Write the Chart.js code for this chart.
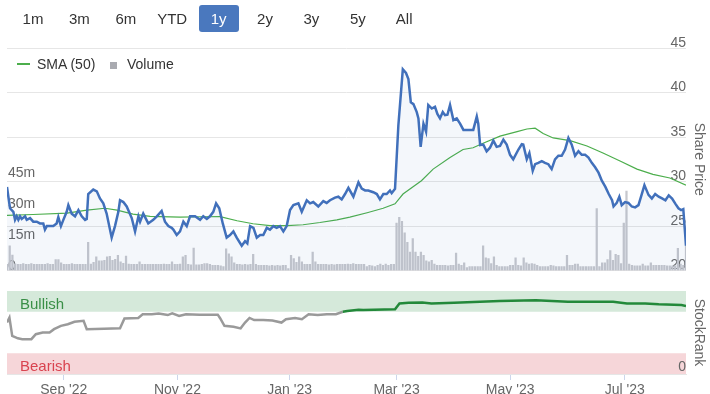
<!DOCTYPE html>
<html><head><meta charset="utf-8">
<script src="https://cdn.jsdelivr.net/npm/chart.js@4/dist/chart.umd.min.js"></script>
<style>
body{margin:0;background:#fff;}
#wrap{position:relative;width:710px;height:394px;overflow:hidden;font-family:"Liberation Sans",Arial,sans-serif;}
.btn{position:absolute;top:5px;width:40px;height:27px;line-height:27px;text-align:center;font-size:15px;color:#333;border-radius:3px;z-index:2;}
.btn.on{background:#4a78be;color:#fff;}
canvas{position:absolute;left:0;}
.lg{position:absolute;font-size:14px;color:#333;line-height:16px;z-index:2;white-space:nowrap;}
.lgline{position:absolute;height:1.5px;z-index:2;}
.lgsq{position:absolute;width:7px;height:7px;z-index:2;}
</style></head>
<body><div id="wrap">
<canvas id="main" width="710" height="280" style="top:0"></canvas>
<canvas id="rank" width="710" height="112" style="top:282px"></canvas>
</div>
<script>
// ---------- DATA ----------
// The x axis is ordinal: one step per trading day, from START to END.
const START = '2022-08-03';
const END = '2023-08-03';
const rangeButtons = ['1m','3m','6m','YTD','1y','2y','3y','5y','All'];
const activeRange = '1y';
const marketHolidays = ['2022-09-05','2022-11-24','2022-12-26','2023-01-02','2023-01-16','2023-02-20','2023-04-07','2023-05-29','2023-06-19','2023-07-04'];

// share price: trading-day position, price
const priceIdx = [0,1.11,2.35,2.97,3.58,4.2,4.82,5.44,6.68,7.29,8.53,9.7,11.0,12.17,13.41,14.03,14.71,15.88,17.12,18.35,18.97,19.93,20.83,22.06,22.68,23.92,25.15,26.39,27.63,28.86,29.48,30.03,31.89,33.19,34.36,35.6,36.83,38.69,39.92,41.16,41.78,43.01,44.25,46.11,47.34,48.58,49.2,50.36,52.22,54.07,55.38,57.16,58.4,59.64,60.87,61.49,62.73,63.96,65.2,66.44,67.67,69.53,71.38,72.55,73.86,75.02,76.26,77.29,78.46,79.76,81.2,82.44,83.68,84.91,86.77,88.0,88.83,89.86,91.1,92.33,93.57,94.74,96.04,97.21,98.45,99.68,100.92,102.16,103.39,104.63,105.87,107.72,108.96,110.81,112.05,113.21,115.07,116.92,118.16,119.4,121.25,122.49,123.72,124.96,126.2,128.05,129.91,131.14,132.38,133.55,135.4,136.71,137.87,139.11,140.35,141.58,142.2,143.44,144.67,146.32,147.49,148.38,149.28,150.24,151.47,152.09,152.91,153.95,154.91,155.73,157.04,158.21,159.1,160.06,161.09,161.92,162.81,163.77,165.01,166.24,167.48,168.72,170.57,172.36,173.66,174.21,174.9,176.07,177.3,178.54,179.78,181.01,182.25,183.49,184.72,185.96,187.13,189.05,190.29,190.84,192.14,193.1,194.34,195.23,196.4,197.7,198.87,200.11,201.34,202.58,203.82,205.05,206.29,207.53,208.76,210.0,211.24,212.47,213.71,214.95,216.18,217.42,218.66,219.89,221.2,222.44,223.67,224.22,225.39,226.35,227.24,228.48,229.72,230.95,232.19,233.43,234.66,235.63,237.14,238.37,239.61,240.91,242.15,243.39,244.62,245.86,247.1,248.2,249.2,250,251];
const priceValue = [29.4,27.0,26.6,25.7,26.1,25.7,26.1,25.8,26.1,25.7,25.9,25.5,25.5,25.3,25.3,24.6,25.0,25.0,25.0,25.3,26.0,25.0,25.7,26.6,27.35,26.4,26.1,26.8,26.1,25.7,25.8,28.6,29.1,28.9,28.1,27.55,26.4,23.7,25.0,26.6,27.9,27.7,27.2,25.9,24.4,26.1,25.5,26.4,25.3,25.7,26.1,26.7,25.5,25.0,24.8,24.6,24.0,24.4,25.5,25.0,26.1,26.1,25.7,26.1,25.8,26.1,26.6,27.55,27.0,25.3,23.7,24.0,24.4,23.7,22.8,23.3,23.05,25.0,24.8,23.7,24.0,24.0,24.8,24.6,25.0,24.8,25.0,24.4,25.0,26.8,27.35,27.55,26.6,27.9,27.55,27.7,27.2,27.8,27.6,27.9,28.2,28.3,28.0,28.6,29.3,28.3,29.9,29.2,29.0,29.0,28.8,28.6,28.0,28.6,28.6,29.0,28.7,29.2,36.3,42.6,42.2,41.5,38.9,38.7,37.8,37.1,33.9,36.5,35.6,38.6,38.2,38.4,37.6,37.1,37.8,37.45,37.5,38.6,36.9,37.1,36.5,35.8,35.8,35.8,37.3,36.5,34.1,34.15,33.4,33.8,34.6,33.9,34.0,34.7,34.15,33.0,32.5,33.6,34.2,34.15,32.5,33.2,31.2,31.95,32.1,32.3,32.1,31.95,31.4,32.5,32.9,32.9,33.6,34.9,34.15,32.9,33.4,33.0,33.0,32.7,32.1,31.6,31.0,30.1,29.4,28.6,27.9,27.2,27.6,28.3,27.35,27.7,27.6,27.2,27.1,27.35,28.6,29.6,28.5,28.1,28.6,28.3,28.1,27.9,28.45,28.1,27.5,27.0,26.8,26.9,22.8];

// 50-day simple moving average
const smaIdx = [0,9.63,22.2,29.55,36.21,40.68,46.58,52.9,63.96,72.48,78.73,85.05,90.96,97.21,103.53,109.44,115.69,121.94,126.75,133.13,139.04,143.44,146.39,153.19,157.52,163.77,168.58,172.29,176.0,182.25,188.57,192.21,195.23,198.19,201.9,208.15,214.4,220.3,226.62,232.87,238.78,245.03,251];
const smaValue = [26.2,26.3,26.45,26.8,27.0,26.8,26.35,26.1,26.0,26.05,26.06,25.6,25.26,25.05,25.05,25.15,25.4,25.7,26.0,26.5,27.0,27.5,28.6,30.1,31.4,32.7,33.6,33.8,34.3,35.1,35.6,35.9,36.0,35.4,34.9,34.6,34.0,33.2,32.3,31.4,30.8,30.4,29.6];

// daily volume in millions, one per trading day (week by week)
const volumeM = [
 3,12,7.5,
 3.3,3,3,3.4,3,  3,3.4,3,3,3,  3,3,3.4,3,3,  5.3,5.3,3.8,3,3,  3,3.4,3,3,
 3,3,3,13.6,3.2,  4,6.6,4.7,4.7,5,  6.6,6.9,5,5.5,7.4,  4.2,3.5,7.0,3.1,3,  3,3,4.2,3,3,
 3,3,3,3,3,  3,3.2,3,3,4.2,  3,3,3.2,6.6,7.4,  3,2.8,10.9,2.8,2.8,  3,3.4,3.4,3,2.5,
 2.5,2.5,2.3,2,  10.5,8.1,6.6,3.8,3,  3,2.8,3,2.8,3,  7.8,3,2.5,2.5,2.5,  2.5,2.3,2.5,2.3,2.5,
 2.3,2.5,2.5,1,  7.4,5.8,4,6.6,  4.2,3,3,3,8.9,  4.2,3,3,3,  3,2.8,3,2.8,3,
 3,3,3,3.2,3,  3.4,3,3,3,3,  2,2.5,2.3,2,2.5,  3.1,2.5,3.1,2.5,  3,3,23,25.7,23.8,
 18.3,13.6,8.9,15.5,8.9,  6.9,8.9,7.4,4.7,4.2,  5.0,3.1,2.5,2.5,2.5,  2.5,2.3,2.5,2.5,8.5,  3.1,2.6,3.8,1.5,
 2,2,2,2,2,  12,6.2,5.8,3.4,6.6,  2.5,2,2,2,2,  2.5,2.5,6.2,2.5,2.3,  6.2,3.8,3.1,3.4,3.1,
 2.6,2,2,2,2,  2.6,2.3,2,2,2,  2,7.4,2.6,2.6,  3.1,3.1,2,2,2,  2,2,2,30,2,
 3.8,3.8,5.3,9.7,  5.0,7.8,7.4,3.4,23,  38.4,3.1,2.6,2.3,  2.3,2.3,3.1,2.3,2.3,  3.8,2.5,2.5,2.5,2.5,
 2.6,2.3,2.3,2.3,2.3,  10.8,3.1,2.5,21.5
];

// StockRank: trading-day position, rank 0-100
const rankIdx = [0,0.9,1.93,4.0,5.64,9.01,10.66,13.2,15.74,17.39,19.93,22.47,24.95,28.31,29.48,35.87,41.78,43.42,48.51,50.16,53.52,56.06,59.43,61.08,63.62,66.16,71.18,77.9,78.73,80.38,83.74,86.36,88.0,89.65,91.37,94.74,98.1,101.47,103.12,106.48,109.02,111.5,114.86,118.23,121.6,124.14,125.78,129.97,131.69,143.44,145.08,148.45,153.53,156.9,165.28,182.11,195.5,207.32,224.08,229.16,235.9,240.91,249.3,251];
const rankValue = [62,68,46,43,42,42,48,50,50,54,58,60,63,64,54,54.5,55,67,67.5,72,72,73,71,73,70,72,71.5,71.5,67.5,58,57,55,62,67.5,65,65,64.5,62,66,67.5,66,72,71,72,72,75,76,77.5,77,78,85,85.7,86,85,85.7,88,89,87,87,85,85,84,83,82];

const priceTicks = [20,25,30,35,40,45];
const volumeTicks = [0,15,30,45];
const monthTickDates = ['2022-09-01','2022-11-01','2023-01-01','2023-03-01','2023-05-01','2023-07-01'];
const monthTickLabels = ["Sep '22","Nov '22","Jan '23","Mar '23","May '23","Jul '23"];
const bullishZone = [75,100];
const bearishZone = [0,25];

// ---------- BUILD ----------
const FONT = '"Liberation Sans", Arial, sans-serif';
Chart.defaults.font.family = FONT;
Chart.defaults.color = '#666';

const DAY = 864e5;
const dayOf = s => Math.round((Date.parse(s) - Date.parse(START)) / DAY);
const tradingDays = [];
for (let d = 0; d <= dayOf(END); d++) {
  const dt = new Date(Date.parse(START) + d * DAY);
  const wd = dt.getUTCDay();
  const iso = dt.toISOString().slice(0, 10);
  if (wd === 0 || wd === 6 || marketHolidays.includes(iso)) continue;
  tradingDays.push(d);
}
const xMax = tradingDays.length - 1;
// ordinal position of a calendar date (interpolated between trading days)
function ordinalOf(s) {
  const d = dayOf(s);
  for (let i = 0; i < tradingDays.length; i++) {
    if (tradingDays[i] >= d) {
      if (i === 0 || tradingDays[i] === d) return i;
      const p = tradingDays[i - 1];
      return i - 1 + (d - p) / (tradingDays[i] - p);
    }
  }
  return xMax;
}

const wrap = document.getElementById('wrap');
rangeButtons.forEach((b, i) => {
  const el = document.createElement('div');
  el.className = 'btn' + (b === activeRange ? ' on' : '');
  el.style.left = (13 + i * 46.4) + 'px';
  el.textContent = b;
  wrap.appendChild(el);
});

const C_PRICE = '#4170bb', C_SMA = '#4cae4c', C_VOL = '#c6c7cd';

const priceDS = { label: 'Share Price', data: priceIdx.map((x, i) => ({x, y: priceValue[i]})),
  yAxisID: 'price', borderColor: C_PRICE, borderWidth: 2.5, pointRadius: 0, tension: 0,
  fill: 'start', backgroundColor: 'rgba(65,112,187,0.06)', order: 1 };
const smaDS = { label: 'SMA (50)', data: smaIdx.map((x, i) => ({x, y: smaValue[i]})),
  yAxisID: 'price', borderColor: C_SMA, borderWidth: 1.2, pointRadius: 0, tension: 0, fill: false, order: 2 };
const volDS = { type: 'bar', label: 'Volume', data: volumeM.map((v, i) => ({x: i, y: v})),
  yAxisID: 'vol', backgroundColor: C_VOL, barThickness: 1.6, order: 3 };

// legend (HTML)
function addEl(cls, css, text) {
  const el = document.createElement('div'); el.className = cls;
  Object.assign(el.style, css); if (text) el.textContent = text; wrap.appendChild(el);
}
addEl('lgline', {left: '17px', top: '63px', width: '13px', background: C_SMA});
addEl('lg', {left: '37px', top: '56px'}, smaDS.label);
addEl('lgsq', {left: '110px', top: '62px', background: '#a9aab0'});
addEl('lg', {left: '127px', top: '56px'}, volDS.label);

new Chart(document.getElementById('main'), {
  type: 'line',
  data: { datasets: [priceDS, smaDS, volDS] },
  options: {
    responsive: false, animation: false, devicePixelRatio: 1,
    layout: { padding: { left: 7, top: 48, bottom: 5, right: 0 } },
    plugins: { legend: { display: false }, tooltip: { enabled: false } },
    scales: {
      x: { type: 'linear', min: 0, max: xMax, offset: false, display: false },
      price: { type: 'linear', position: 'right', min: 20, max: 45,
        afterBuildTicks: s => { s.ticks = priceTicks.map(v => ({value: v})); },
        afterFit: s => { s.width = 24; },
        grid: { color: '#e6e6e6', drawTicks: false }, border: { display: false },
        ticks: { mirror: true, padding: 0, labelOffset: -5, color: '#666', font: { size: 14 } },
        title: { display: true, text: 'Share Price', color: '#666', font: { size: 14 }, padding: { top: 3, bottom: 0 } } },
      vol: { type: 'linear', position: 'left', min: 0, max: 107.5, z: 1,
        afterBuildTicks: s => { s.ticks = volumeTicks.map(v => ({value: v})); },
        afterFit: s => { s.width = 0; },
        grid: { display: false }, border: { display: false },
        ticks: { mirror: true, padding: 1, labelOffset: -4, color: '#666', font: { size: 14 },
          callback: v => v === 0 ? '0' : v + 'm' } }
    }
  }
});

const zonePlugin = {
  id: 'zones',
  beforeDraw(chart) {
    const { ctx, chartArea: a, scales: { y } } = chart;
    ctx.save();
    const bt = y.getPixelForValue(bullishZone[1]), bb = y.getPixelForValue(bullishZone[0]);
    const rt = y.getPixelForValue(bearishZone[1]), rb = y.getPixelForValue(bearishZone[0]);
    ctx.fillStyle = '#d5e9da'; ctx.fillRect(a.left, bt, a.right - a.left, bb - bt);
    ctx.fillStyle = '#f6d6d9'; ctx.fillRect(a.left, rt, a.right - a.left, rb - rt);
    ctx.font = '15px ' + FONT; ctx.textBaseline = 'alphabetic'; ctx.textAlign = 'left';
    ctx.fillStyle = '#3a8f47'; ctx.fillText('Bullish', a.left + 13, bb - 3);
    ctx.fillStyle = '#d9434f'; ctx.fillText('Bearish', a.left + 13, rb - 3);
    ctx.restore();
  }
};

new Chart(document.getElementById('rank'), {
  type: 'line',
  data: { datasets: [{ label: 'StockRank', data: rankIdx.map((x, i) => ({x, y: rankValue[i]})),
    borderWidth: 2.5, pointRadius: 0, tension: 0, borderColor: '#9a9a9a',
    segment: { borderColor: c => (c.p0.parsed.y >= bullishZone[0] && c.p1.parsed.y >= bullishZone[0]) ? '#23893a' : '#9a9a9a' } }] },
  options: {
    responsive: false, animation: false, devicePixelRatio: 1,
    layout: { padding: { left: 7, top: 9, right: 0, bottom: 0 } },
    plugins: { legend: { display: false }, tooltip: { enabled: false } },
    scales: {
      x: { type: 'linear', min: 0, max: xMax, offset: false,
        afterBuildTicks: s => { s.ticks = monthTickDates.map(d => ({value: ordinalOf(d)})); },
        afterFit: s => { s.height = 20; },
        grid: { drawOnChartArea: false, tickLength: 6, color: '#ccd6eb' }, border: { color: '#e6e6e6' },
        ticks: { color: '#666', font: { size: 14 }, padding: 2, maxRotation: 0, autoSkip: false,
          callback: (v, i) => monthTickLabels[i] } },
      y: { type: 'linear', position: 'right', min: 0, max: 100,
        afterBuildTicks: s => { s.ticks = [{value: 0}]; },
        afterFit: s => { s.width = 24; },
        grid: { display: false }, border: { display: false },
        ticks: { mirror: true, padding: 0, labelOffset: -7, color: '#666', font: { size: 14 } },
        title: { display: true, text: 'StockRank', color: '#666', font: { size: 14 }, padding: { top: 3, bottom: 0 } } }
    }
  },
  plugins: [zonePlugin]
});
</script>
</body></html>
